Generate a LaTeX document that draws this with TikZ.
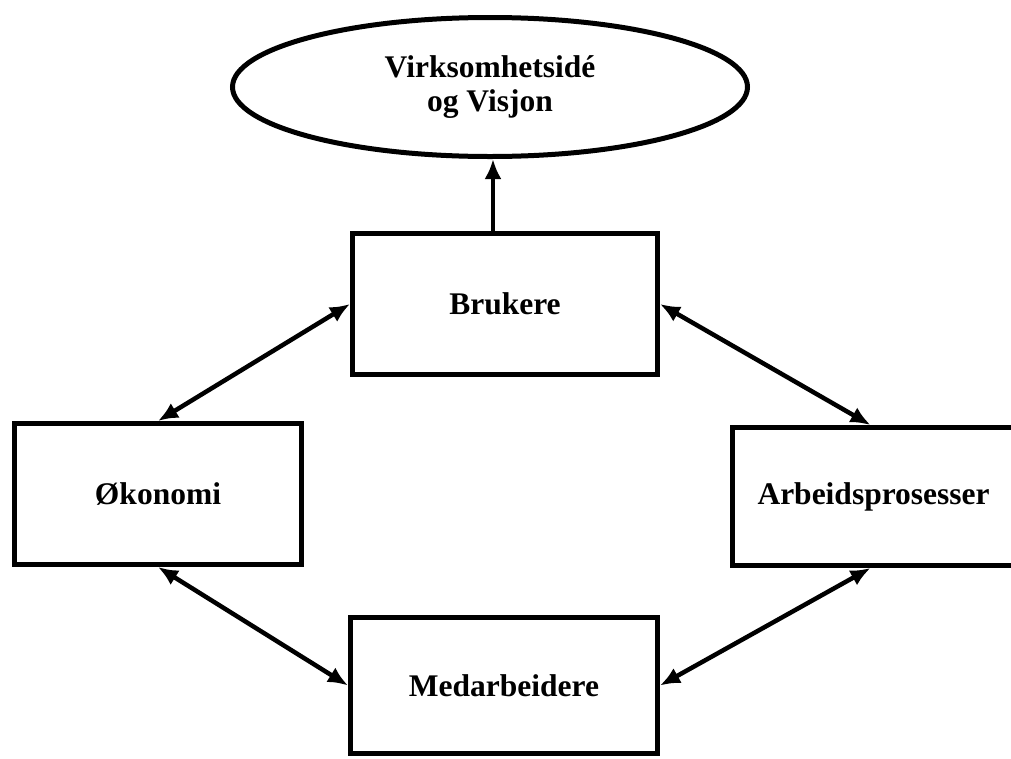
\documentclass[tikz,border=0pt]{standalone}
\usepackage{fontspec}
\setmainfont{Liberation Serif}
\usetikzlibrary{shapes.geometric,arrows.meta}
\tikzset{
  box/.style={draw, line width=5pt, rectangle, inner sep=0pt, align=center,
    font=\fontsize{31.5}{34}\selectfont\bfseries},
  oval/.style={draw, line width=5pt, ellipse, inner sep=0pt, align=center,
    font=\fontsize{31.5}{34}\selectfont\bfseries},
  link/.style={line width=4.5pt, {Latex[length=20pt,width=17pt]}-{Latex[length=20pt,width=17pt]}},
  uplink/.style={line width=4.5pt, -{Latex[length=20pt,width=17pt]}}
}
\begin{document}
\begin{tikzpicture}[x=1pt,y=-1pt]
\useasboundingbox (0,0) rectangle (1011,758);
\clip (0,0) rectangle (1011,758);
\node[oval, minimum width=515pt, minimum height=139pt] (visjon) at (490,87) {Virksomhetsidé\\og Visjon};
\node[box, minimum width=305pt, minimum height=141pt] (brukere) at (505,304) {Brukere};
\node[box, minimum width=287pt, minimum height=141pt] (okonomi) at (158,494) {Økonomi};
\node[box, minimum width=284pt, minimum height=138pt, text width=278pt, align=left] (arbeid) at (874.5,496.5) {\hspace*{22pt}Arbeidsprosesser};
\node[box, minimum width=307pt, minimum height=136pt] (medarb) at (504,685.5) {Medarbeidere};
\draw[uplink] ([xshift=-12pt]brukere.north) -- ([xshift=-12pt]brukere.north |- visjon.south);
\draw[link] (brukere.west) -- (okonomi.north);
\draw[link] (brukere.east) -- ([xshift=-4pt]arbeid.north);
\draw[link] (okonomi.south) -- (medarb.west);
\draw[link] ([xshift=-4pt]arbeid.south) -- (medarb.east);
\end{tikzpicture}
\end{document}
